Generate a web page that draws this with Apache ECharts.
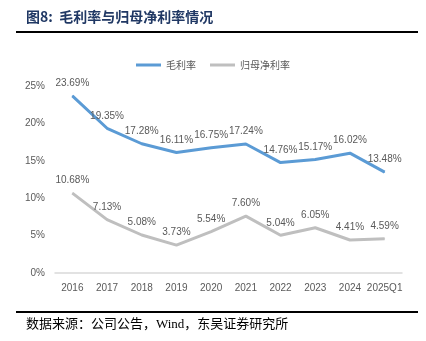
<!DOCTYPE html>
<html><head><meta charset="utf-8">
<script src="https://cdn.jsdelivr.net/npm/echarts@6/dist/echarts.min.js"></script>
<style>html,body{margin:0;padding:0;background:#fff}#c{width:426px;height:341px}</style>
</head><body><div id="c"></div>
<script>
const categories = ['2016','2017','2018','2019','2020','2021','2022','2023','2024','2025Q1'];
const grossMargin = [23.69,19.35,17.28,16.11,16.75,17.24,14.76,15.17,16.02,13.48];
const netMargin = [10.68,7.13,5.08,3.73,5.54,7.60,5.04,6.05,4.41,4.59];
const yTicks = [0,5,10,15,20,25];
const seriesNames = ['毛利率','归母净利率'];
const titleText = '图8:  毛利率与归母净利率情况';
const sourceText = '数据来源：公司公告，Wind，东吴证券研究所';

const chart = echarts.init(document.getElementById('c'));
const lbl = {show:true, position:'top', distance:7, color:'#595959', fontSize:10, fontFamily:'Liberation Sans, Arial, sans-serif', formatter: p => p.value.toFixed(2)+'%'};
chart.setOption({
  animation:false,
  backgroundColor:'#fff',
  graphic:[
    {type:'text', left:26, top:10, style:{text:titleText, font:'bold 14px "Noto Sans CJK SC", sans-serif', fill:'#203864'}},
    {type:'line', shape:{x1:16,y1:32,x2:418,y2:32}, style:{stroke:'#000', lineWidth:2}},
    {type:'line', shape:{x1:16,y1:312,x2:418,y2:312}, style:{stroke:'#000', lineWidth:2}},
    {type:'text', left:26, top:318, style:{text:sourceText, font:'13px "Liberation Serif", "Noto Sans CJK SC", serif', fill:'#000'}}
  ],
  legend:{top:55, left:'center', itemWidth:25, itemHeight:3, itemGap:14, icon:'rect',
    textStyle:{color:'#595959', fontSize:10, fontFamily:'"Noto Sans CJK SC", sans-serif'}, data:seriesNames},
  grid:{left:55, right:24, top:86, bottom:68},
  xAxis:{type:'category', data:categories, boundaryGap:true,
    axisLine:{lineStyle:{color:'#D9D9D9', width:1.5}}, axisTick:{show:false},
    axisLabel:{color:'#595959', fontSize:10, margin:10, interval:0, fontFamily:'Liberation Sans, Arial, sans-serif'}},
  yAxis:{type:'value', min:yTicks[0], max:yTicks[yTicks.length-1], interval:5,
    axisLine:{show:false}, axisTick:{show:false}, splitLine:{show:false},
    axisLabel:{color:'#595959', fontSize:10, margin:10, formatter:v=>v+'%', fontFamily:'Liberation Sans, Arial, sans-serif'}},
  series:[
    {name:seriesNames[0], type:'line', data:grossMargin, symbol:'circle', symbolSize:1, showSymbol:true, lineStyle:{color:'#5B9BD5', width:3}, itemStyle:{color:'#5B9BD5'}, label:lbl},
    {name:seriesNames[1], type:'line', data:netMargin, symbol:'circle', symbolSize:1, showSymbol:true, lineStyle:{color:'#BFBFBF', width:3}, itemStyle:{color:'#BFBFBF'}, label:lbl}
  ]
});
</script></body></html>
